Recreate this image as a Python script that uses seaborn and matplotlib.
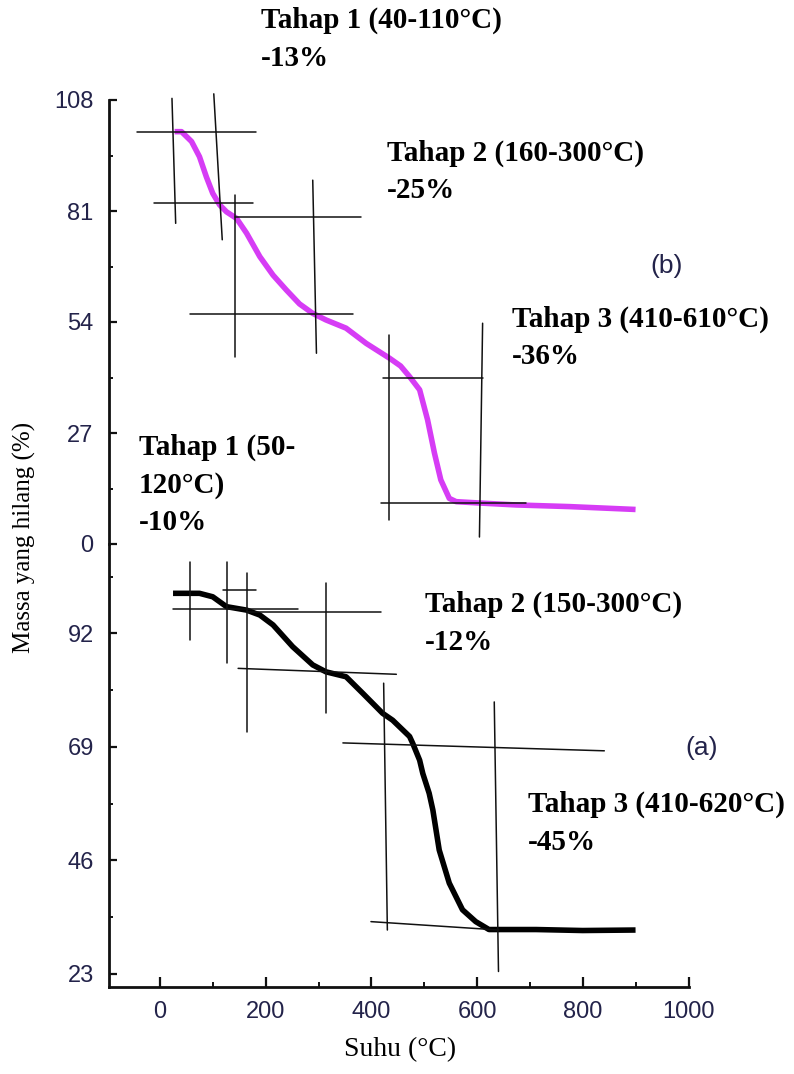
import matplotlib
matplotlib.use("Agg")
import matplotlib.pyplot as plt
from matplotlib.ticker import FixedLocator, NullLocator
import seaborn as sns

# ---- (b) upper curve: temperature (°C) vs mass (%) ----
temp_b = [28, 41, 60, 75, 88, 100, 113, 126, 145, 164, 189, 214, 239, 264, 289,
          314, 352, 390, 434, 455, 472, 491, 506, 519, 531, 547, 560, 600, 673, 774, 899]
mass_b = [100.3, 100.3, 97.9, 94.2, 89.3, 85.3, 82.5, 80.8, 79.2, 75.6, 69.9, 65.4, 61.8,
          58.4, 56.1, 54.5, 52.5, 48.8, 45.2, 43.3, 40.7, 37.5, 30.2, 22.1, 15.6, 11.1,
          10.3, 10.0, 9.5, 9.1, 8.4]

# ---- (a) lower curve ----
temp_a = [25, 75, 100, 126, 164, 189, 214, 251, 289, 314, 352, 384, 409, 421, 440, 472,
          478, 491, 497, 509, 516, 528, 547, 572, 597, 622, 711, 799, 899]
mass_a = [100.1, 100.1, 99.4, 97.4, 96.7, 95.7, 93.7, 89.3, 85.6, 84.2, 83.2, 79.8, 77.1,
          75.8, 74.4, 71.1, 69.7, 66.3, 63.6, 59.6, 56.2, 48.1, 41.4, 36.0, 33.6, 32.0,
          32.0, 31.8, 31.9]

# ---- tick values ----
xticks_major = [0, 200, 400, 600, 800, 1000]
xticks_minor = [100, 300, 500, 700, 900]
yticks_b = [0, 27, 54, 81, 108]
yminor_b = [13.5, 40.5, 67.5, 94.5]
yticks_a = [23, 46, 69, 92]
yminor_a = [34.5, 57.5, 80.5, 103.5]

# ---- tangent construction segments: (T start, T end, mass start, mass end) ----
guides_b = [
    (23, 30, 108.4, 78.0),
    (-44, 182, 100.1, 100.1),
    (102, 118, 109.5, 74.0),
    (-11, 176, 82.9, 82.9),
    (143, 143, 84.9, 45.6),
    (143, 381, 79.6, 79.6),
    (289, 296, 88.5, 46.4),
    (58, 366, 55.9, 55.9),
    (434, 434, 50.8, 5.8),
    (421, 610, 40.5, 40.5),
    (610, 604, 53.7, 1.7),
    (418, 692, 9.9, 9.9),
]
guides_a = [
    (58, 58, 106.5, 90.6),
    (119, 182, 100.8, 100.8),
    (25, 262, 96.9, 96.9),
    (127, 127, 106.5, 85.9),
    (165, 165, 104.2, 72.1),
    (164, 418, 96.3, 96.3),
    (314, 314, 102.1, 75.8),
    (148, 447, 84.9, 83.7),
    (423, 430, 81.9, 31.9),
    (346, 840, 69.8, 68.2),
    (632, 640, 78.1, 23.5),
    (399, 641, 33.6, 31.9),
]

stage_text_b = [["Tahap 1 (40-110°C)", "-13%"],
                ["Tahap 2 (160-300°C)", "-25%"],
                ["Tahap 3 (410-610°C)", "-36%"]]
stage_text_a = [["Tahap 1 (50-", "120°C)", "-10%"],
                ["Tahap 2 (150-300°C)", "-12%"],
                ["Tahap 3 (410-620°C)", "-45%"]]
panel_names = ["(b)", "(a)"]

sns.set_theme(style="ticks")
plt.rcParams["font.family"] = ["Liberation Sans", "DejaVu Sans"]

W, H = 794, 1074
fig = plt.figure(figsize=(W / 100, H / 100), dpi=100)
fig.patch.set_facecolor("white")

def frac(x, y):
    return x / W, 1 - y / H

left, right = 109, 689
ax_b = fig.add_axes([left / W, 1 - 544 / H, (right - left) / W, (544 - 100) / H])
ax_a = fig.add_axes([left / W, 1 - 987 / H, (right - left) / W, (987 - 544) / H])

label_color = "#23234a"
magenta = "#d63cf5"

sns.lineplot(x=temp_b, y=mass_b, ax=ax_b, color=magenta, linewidth=4.0,
             estimator=None, sort=False, solid_capstyle="butt", solid_joinstyle="round")
sns.lineplot(x=temp_a, y=mass_a, ax=ax_a, color="black", linewidth=4.0,
             estimator=None, sort=False, solid_capstyle="butt", solid_joinstyle="round")

for ax, guides in ((ax_b, guides_b), (ax_a, guides_a)):
    for t0, t1, m0, m1 in guides:
        ax.plot([t0, t1], [m0, m1], color="#111111", linewidth=1.1, clip_on=False, zorder=3)

for ax in (ax_b, ax_a):
    ax.set_xlim(-96, 1000)
    ax.set_facecolor("none")
    for s in ("top", "right"):
        ax.spines[s].set_visible(False)
    ax.spines["left"].set_linewidth(2.0)
    ax.spines["bottom"].set_linewidth(2.0)
    ax.spines["left"].set_color("#111111")
    ax.spines["bottom"].set_color("#111111")
    ax.set_xlabel("")
    ax.set_ylabel("")
    ax.tick_params(axis="y", which="major", direction="in", length=6, width=1.6,
                   pad=11, labelsize=17, labelcolor=label_color, color="#111111")
    ax.tick_params(axis="y", which="minor", direction="in", length=3.2, width=1.4,
                   color="#111111")

ax_b.set_ylim(0, 108)
ax_b.yaxis.set_major_locator(FixedLocator(yticks_b))
ax_b.yaxis.set_minor_locator(FixedLocator(yminor_b))
ax_b.spines["bottom"].set_visible(False)
ax_b.xaxis.set_major_locator(NullLocator())
ax_b.xaxis.set_minor_locator(NullLocator())

ax_a.set_ylim(20.36, 110.09)
ax_a.yaxis.set_major_locator(FixedLocator(yticks_a))
ax_a.yaxis.set_minor_locator(FixedLocator(yminor_a))
ax_a.xaxis.set_major_locator(FixedLocator(xticks_major))
ax_a.xaxis.set_minor_locator(FixedLocator(xticks_minor))
ax_a.tick_params(axis="x", which="major", direction="in", length=7.2, width=1.6,
                 pad=10, labelsize=17, labelcolor=label_color, color="#111111")
ax_a.tick_params(axis="x", which="minor", direction="in", length=3.4, width=1.4,
                 color="#111111")

# axis titles
serif = ["Liberation Serif", "DejaVu Serif"]
fig.text(*frac(24, 537), "Massa yang hilang (%)", rotation=90, ha="center", va="center",
         fontsize=18, family=serif, color="black")
fig.text(*frac(400, 1050), "Suhu (°C)", ha="center", va="center",
         fontsize=20, family=serif, color="black")

# stage annotations: left x, first baseline, line step (pixels)
def stage(lines, x, y0, step=37.5):
    for i, s in enumerate(lines):
        fig.text(*frac(x, y0 + i * step), s, ha="left", va="baseline",
                 fontsize=21, fontweight="bold", family=serif, color="black")

stage(stage_text_b[0], 261, 28)
stage(stage_text_b[1], 387, 161)
stage(stage_text_b[2], 512, 327)
stage(stage_text_a[0], 139, 455)
stage(stage_text_a[1], 425, 612)
stage(stage_text_a[2], 528, 812)

fig.text(*frac(667, 266), panel_names[0], ha="center", va="center", fontsize=19,
         color=label_color)
fig.text(*frac(702, 748), panel_names[1], ha="center", va="center", fontsize=19,
         color=label_color)

fig.savefig("out.png", dpi=100)
